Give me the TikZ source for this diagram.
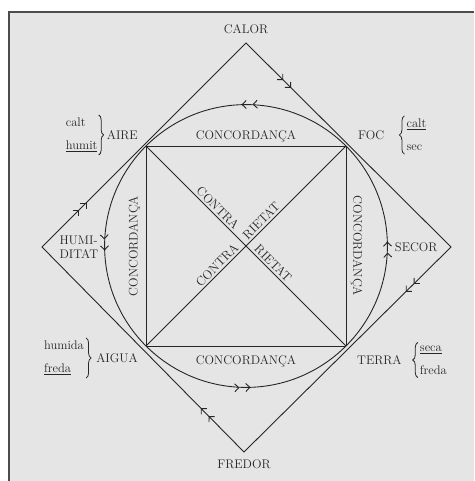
\documentclass[tikz,border=0pt]{standalone}
\usepackage{fontspec}
\usetikzlibrary{arrows.meta,positioning,calc,decorations.markings,decorations.pathreplacing}
\tikzset{
  ink/.style     ={draw=black!85, line width=0.9pt},
  dblmarks/.style={postaction=decorate, decoration={markings,
      mark=between positions #1 and 1 step 0.25 with
      {\arrow{Straight Barb[length=4pt,width=8pt,sep=6pt]Straight Barb[length=4pt,width=8pt]}}}},
  qual/.style    ={inner xsep=0pt, inner ysep=3pt, align=left},
  elem/.style    ={inner sep=0pt},
  brc/.style     ={draw=black!85, line width=0.8pt, decorate, decoration={brace, amplitude=5pt}},
  word/.style    ={inner sep=2pt, sloped},
}

\begin{document}
\begin{tikzpicture}[x=1pt, y=1pt, font=\fontsize{12.5}{14}\selectfont, text=black!85]
  \useasboundingbox (-246,-235) rectangle (228,246);
  % paper
  \fill[black!10] (-237,-235) rectangle (228,234);
  \draw[black!70, line width=1.2pt] (-237,-235) -- (-237,234) -- (228,234);

  % elements (square) and qualities (diamond)
  \coordinate (aire)   at (-100,100);
  \coordinate (foc)    at (100,100);
  \coordinate (aigua)  at (-100,-100);
  \coordinate (terra)  at (100,-100);
  \coordinate (calor)  at (0,203);
  \coordinate (secor)  at (205,-1);
  \coordinate (fredor) at (-2,-206);
  \coordinate (humid)  at (-204,-1);

  \draw[ink, dblmarks=0.055] (calor) -- (secor) -- (fredor) -- (humid) -- cycle;
  \draw[ink, dblmarks=0.005] (0,0) circle[radius=141.4];

  \draw[ink] (aire) -- node[above] (concA) {CONCORDANÇA} (foc);
  \draw[ink] (foc) -- node[sloped, above=1pt] (concF) {CONCORDANÇA} (terra);
  \draw[ink] (aigua) -- node[below=6pt] (concT) {CONCORDANÇA} (terra);
  \draw[ink] (aigua) -- node[sloped, above=2pt] (concG) {CONCORDANÇA} (aire);

  \draw[ink] (aire) -- node[word, anchor=south east, pos=.44] (contA) {CONTRA}
                       node[word, anchor=south west, pos=.52] (rietA) {RIETAT} (terra);
  \draw[ink] (aigua) -- node[word, anchor=south east, pos=.485] (contB) {CONTRA}
                        node[word, anchor=south west, pos=.51] (rietB) {RIETAT} (foc);

  \node[above=6pt of calor] (calorl) {CALOR};
  \node[below=4pt of fredor] (fredorl) {FREDOR};
  \node[right=14pt of humid, align=left] (humidl) {HUMI-\\DITAT};
  \node[left=10pt of secor] (secorl) {SECOR};

  % the four elements with their qualities
  \node[elem, left=8pt of aire, yshift=11pt] (airen) {AIRE};
  \node[qual, left=9pt of airen] (airek) {calt\\[9pt]\underline{humit}};
  \draw[brc] ([xshift=1pt]airek.north east) -- ([xshift=1pt]airek.south east);

  \node[elem, right=12pt of foc, yshift=11pt] (focn) {FOC};
  \node[qual, right=22pt of focn] (fock) {\underline{calt}\\[9pt]sec};
  \draw[brc] ([xshift=-2pt]fock.south west) -- ([xshift=-2pt]fock.north west);

  \node[elem, left=8pt of aigua, yshift=-12pt] (aiguan) {AIGUA};
  \node[qual, left=12pt of aiguan] (aiguak) {humida\\[9pt]\underline{freda}};
  \draw[brc] ([xshift=2pt]aiguak.north east) -- ([xshift=2pt]aiguak.south east);

  \node[elem, right=11pt of terra, yshift=-14pt] (terran) {TERRA};
  \node[qual, right=18pt of terran] (terrak) {\underline{seca}\\[9pt]freda};
  \draw[brc] ([xshift=-2pt]terrak.south west) -- ([xshift=-2pt]terrak.north west);
\end{tikzpicture}
\end{document}
